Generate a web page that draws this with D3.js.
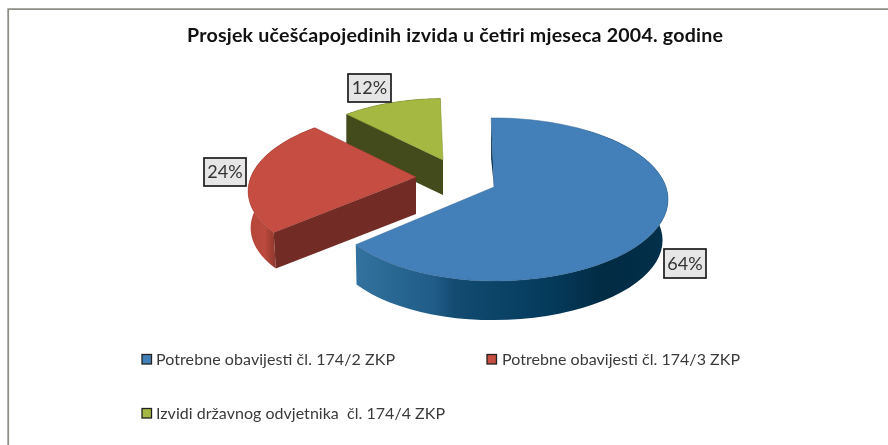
<!DOCTYPE html>
<html><head><meta charset="utf-8">
<script src="https://cdn.jsdelivr.net/npm/d3@7"></script>
<style>html,body{margin:0;background:#fff}svg{display:block;filter:blur(.35px)}text{font-family:Lato,sans-serif}</style>
</head><body><svg id="c" width="888" height="445"></svg>
<script>
const title = "Prosjek učešćapojedinih izvida u četiri mjeseca 2004. godine";
const categories = ["Potrebne obavijesti čl. 174/2 ZKP","Potrebne obavijesti čl. 174/3 ZKP","Izvidi državnog odvjetnika  čl. 174/4 ZKP"];
const values = [64,24,12];
const topColors = ["#4380B9","#C54D41","#A5B842"];
const cutColors = ["#03314D","#722B25","#434A1C"];

const svg = d3.select("#c");
const defs = svg.append("defs");
svg.append("path").attr("d","M8.2,445V9.1H888").attr("fill","none").attr("stroke","#8f8f88").attr("stroke-width",1.8);

svg.append("text").attr("x",455).attr("y",42).attr("text-anchor","middle")
  .attr("font-size",19.6).attr("font-weight",700).attr("fill","#111").attr("textLength",536).attr("lengthAdjust","spacing").text(title);

const layout = [
 {cx:494,cy:187,s:1,left:.955,shear:0,depth:41,bs:.98,bdx:-2,skip:10},
 {cx:416,cy:177,s:.96,left:1,shear:.06,depth:37,bs:.985,bdx:0,skip:0},
 {cx:443,cy:160,s:.89,left:1,shear:0,depth:35,bs:1,bdx:0,skip:0}
];
const K=.153,F=172,G=79.6;
const pie = d3.pie().sort(null).startAngle(-0.02).endAngle(2*Math.PI-0.02)(values);
const proj=(l,a,sc=1,dy=0,dx=0)=>{const w=1+K*Math.cos(a), sn=Math.sin(a);
  const ry=-l.s*sc*G*Math.cos(a)/w;
  return [l.cx+dx+l.s*sc*F*(sn<0?l.left:1)*sn/w-l.shear*ry, l.cy+ry+dy];};
const line=d3.line();
const arcPts=(l,a0,a1,sc,dy,dx)=>d3.range(0,61).map(i=>proj(l,a0+(a1-a0)*i/60,sc,dy,dx));

const grad=(id,x1,x2,stops)=>{const g=defs.append("linearGradient").attr("id",id).attr("gradientUnits","userSpaceOnUse")
  .attr("x1",x1).attr("x2",x2).attr("y1",0).attr("y2",0);
  stops.forEach(s=>g.append("stop").attr("offset",s[0]).attr("stop-color",s[1]));};
grad("w0",356,668,[[0,"#33729F"],[.25,"#1F5C87"],[.32,"#124A70"],[.6,"#053C5E"],[.8,"#022B44"],[1,"#03304B"]]);
grad("w1",247,276,[[0,"#B34538"],[.6,"#BC4A3E"],[1,"#8E362D"]]);
grad("w2",340,450,[[0,"#434A1C"],[1,"#434A1C"]]);

[2,1,0].forEach(i=>{
  const d=pie[i], l=layout[i], g=svg.append("g");
  const rim=arcPts(l,d.startAngle,d.endAngle,1,0,0);
  const low=arcPts(l,d.startAngle,d.endAngle,l.bs,l.depth,l.bdx);
  const c=[l.cx,l.cy], st=rim[0], stLow=low[0], cLow=[l.cx,l.cy+l.depth];
  if(i===0){
    g.append("path").attr("d",line([st,[st[0],st[1]+l.depth],c])+"Z").attr("fill",cutColors[0]);
  }
  g.append("path").attr("d",line(rim.slice(l.skip).concat(low.slice(l.skip).reverse()))+"Z").attr("fill",`url(#w${i})`);
  if(i>0){
    g.append("path").attr("d",line([c,st,stLow,cLow])+"Z").attr("fill",cutColors[i]);
  }
  g.append("path").attr("d",line([c].concat(rim))+"Z").attr("fill",topColors[i]).attr("stroke",d3.color(topColors[i]).darker(.6)).attr("stroke-width",.5);
});

const labelBoxes=[{x:664,y:249,w:42,h:29},{x:204,y:158,w:42,h:28},{x:348,y:74,w:43,h:28}];
values.forEach((v,i)=>{const b=labelBoxes[i];
  svg.append("rect").attr("x",b.x).attr("y",b.y).attr("width",b.w).attr("height",b.h).attr("fill","#E6E6E6").attr("stroke","#1c1c1c").attr("stroke-width",1.7);
  svg.append("text").attr("x",b.x+b.w/2).attr("y",b.y+b.h/2+6.3).attr("text-anchor","middle").attr("font-size",18).attr("fill","#333").text(v+"%");
});

const leg=[{x:142,y:354,tx:156,w:239},{x:487,y:354,tx:502,w:238},{x:142,y:408,tx:156,w:289}];
categories.forEach((t,i)=>{const p=leg[i];
  svg.append("rect").attr("x",p.x).attr("y",p.y+.5).attr("width",9.5).attr("height",9.5).attr("fill",topColors[i]).attr("stroke","#222").attr("stroke-width",1.3);
  svg.append("text").attr("x",p.tx).attr("y",p.y+11).attr("font-size",16).attr("fill","#3a3a3a").style("white-space","pre").attr("textLength",p.w).attr("lengthAdjust","spacing").text(t);
});
</script></body></html>
